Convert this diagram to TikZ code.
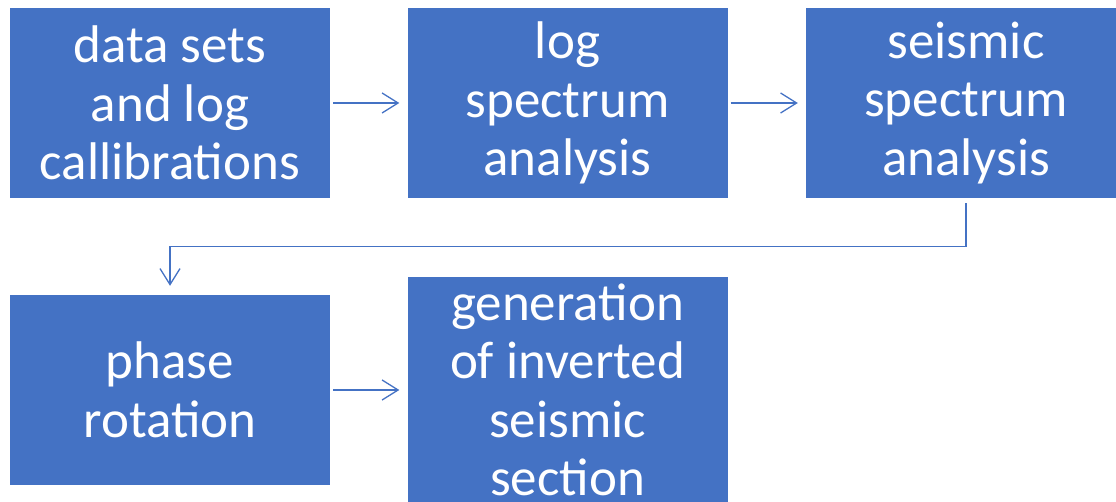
\documentclass[tikz,border=0pt]{standalone}
\usepackage{fontspec}
\setmainfont{Carlito}
\usetikzlibrary{positioning,
				arrows.meta}
\definecolor{boxblue}{HTML}{4472C4}

\begin{document}
\begin{tikzpicture}[x=1pt,y=-1pt,
  box/.style={rectangle,fill=boxblue,text=white,minimum width=320pt,minimum height=190pt,
              align=center,inner sep=0pt,font=\fontsize{53}{58.5}\selectfont},
  flow/.style={draw=boxblue,line width=1.3pt,-{Straight Barb[length=16pt,width=20pt]}}]
  \clip (0,0) rectangle (1116,502);
  \node[box] (sets) at (170,103) {data sets\\and log\\callibrations};
  \node[box] (logspec) at (567.5,103) {log\\spectrum\\analysis};
  \node[box] (seisspec) at (966,103) {seismic\\spectrum\\analysis};
  \node[box] (phase) at (170,390) {phase\\rotation};
  \node[box,minimum height=226pt] (gen) at (567.5,390) {generation\\of inverted\\seismic\\section};
  \draw[flow]([xshift=3pt]sets.east)--([xshift=-8pt]logspec.west);
  \draw[flow]([xshift=3pt]logspec.east)--([xshift=-8pt]seisspec.west);
  \draw[flow]([yshift=-5pt]seisspec.south)--([yshift=-48pt]seisspec.south)-|([yshift=9pt]phase.north);
  \draw[flow]([xshift=3pt]phase.east)--([xshift=-8pt]phase.east-|gen.west);
\end{tikzpicture}
\end{document}
